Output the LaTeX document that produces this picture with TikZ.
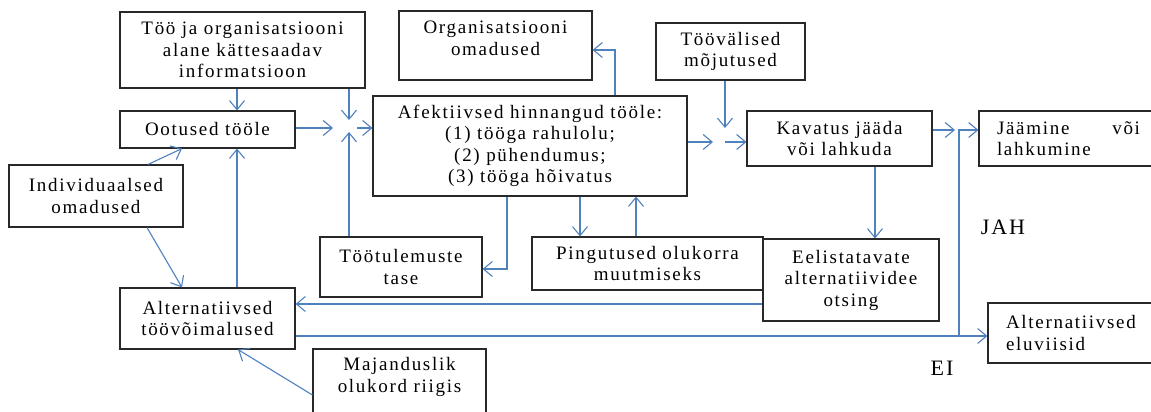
\documentclass[tikz,border=0pt]{standalone}
\usepackage{fontspec}
\setmainfont{Liberation Serif}[LetterSpace=9]
\usetikzlibrary{arrows.meta}
\definecolor{linkblue}{RGB}{79,129,189}
\definecolor{boxedge}{RGB}{40,40,40}
\tikzset{
  box/.style={draw=boxedge, line width=1.1pt, rectangle, align=center, inner sep=0pt,
    font=\fontsize{19}{21.5}\selectfont},
  lbl/.style={align=center, inner sep=0pt, font=\fontsize{19}{21.5}\selectfont},
  flow/.style={draw=linkblue, line width=1.1pt, -{Straight Barb[length=9pt,width=15pt]}},
  tag/.style={inner sep=0pt, font=\fontsize{22}{26}\selectfont},
}
\begin{document}
\begin{tikzpicture}[x=1pt,y=-1pt]
\useasboundingbox (0,0) rectangle (1151,412);
\clip (0,0) rectangle (1151,412);

% boxes
\node[box, minimum width=245, minimum height=76] (info) at (242.5,50)
  {Töö ja organisatsiooni\\alane kättesaadav\\informatsioon};
\node[box, minimum width=175, minimum height=37] (oot) at (207.5,129.5) {Ootused tööle};
\node[box, minimum width=174, minimum height=62] (ind) at (96,196) {Individuaalsed\\omadused};
\node[box, minimum width=193, minimum height=69] (org) at (495.5,45.5) {};
\node[lbl] (orgtext) at (495.5,38.5) {Organisatsiooni\\omadused};
\node[box, minimum width=314, minimum height=100] (afe) at (530,146)
  {Afektiivsed hinnangud tööle:\\(1) tööga rahulolu;\\(2) pühendumus;\\(3) tööga hõivatus};
\node[box, minimum width=149, minimum height=57] (tv) at (730.5,51.5) {Töövälised\\mõjutused};
\node[box, minimum width=185, minimum height=55] (kav) at (839.5,138.5) {Kavatus jääda\\või lahkuda};
\node[box, minimum width=179, minimum height=55, text width=143, align=left] (jaa) at (1068.5,138.5)
  {Jäämine\hfill või\\lahkumine};
\node[box, minimum width=162, minimum height=60] (tt) at (401,267) {Töötulemuste\\tase};
\node[box, minimum width=231, minimum height=53] (pin) at (647.5,263.5) {Pingutused olukorra\\muutmiseks};
\node[box, minimum width=176, minimum height=82] (eel) at (851,280)
  {Eelistatavate\\alternatiividee\\otsing};
\node[box, minimum width=175, minimum height=61] (alt) at (207.5,318.5) {Alternatiivsed\\töövõimalused};
\node[box, minimum width=173, minimum height=76] (maj) at (399.5,387) {};
\node[lbl] (majtext) at (399.5,377) {Majanduslik\\olukord riigis};
\node[box, minimum width=170, minimum height=60, text width=134, align=left] (elu) at (1073,333)
  {Alternatiivsed\\eluviisid};

% branch labels
\node[tag] (jah) at (1003,227) {JAH};
\node[tag] (ei) at (942,368) {EI};

% meeting points of the arrows
\coordinate (j1) at (349,128);
\coordinate (j2) at (725,142);
\coordinate (j3) at (959,130);
\coordinate (j4) at (959,336);

% connectors
\draw[flow] (237,0 |- info.south) -- (237,0 |- oot.north);
\draw[flow] (j1 |- info.south) -- ([yshift=8pt]j1);
\draw[flow] (oot.east |- j1) -- ([xshift=-16pt]j1);
\draw[flow] (j1 |- tt.north) -- ([yshift=-4pt]j1);
\draw[flow] ([xshift=8pt]j1) -- (afe.west |- j1);

\draw[flow] (148,0 |- ind.north) -- (182,0 |- oot.south);
\draw[flow] (147,0 |- ind.south) -- (182,0 |- alt.north);
\draw[flow] (237,0 |- alt.north) -- (237,0 |- oot.south);
\draw[flow] ([yshift=-8pt]maj.west) -- (238,0 |- alt.south);

\draw[flow] (615,0 |- afe.north) |- (org.east |- 0,50);
\draw[flow] (afe.east |- j2) -- ([xshift=-12pt]j2);
\draw[flow] (j2 |- tv.south) -- ([yshift=14pt]j2);
\draw[flow] (j2) -- (kav.west |- j2);

\draw[flow] (kav.east |- j3) -- ([xshift=-4pt]j3);
\draw[flow] (alt.east |- j4) -- (elu.west |- j4);
\draw[flow] (j4) -- (j3) -- (jaa.west |- j3);

\draw[flow] (875,0 |- kav.south) -- (875,0 |- eel.north);
\draw[flow] (eel.west |- 0,304) -- (alt.east |- 0,304);
\draw[flow] (507,0 |- afe.south) |- (tt.east |- 0,269);
\draw[flow] (580,0 |- afe.south) -- (580,0 |- pin.north);
\draw[flow] (636,0 |- pin.north) -- (636,0 |- afe.south);
\end{tikzpicture}
\end{document}
